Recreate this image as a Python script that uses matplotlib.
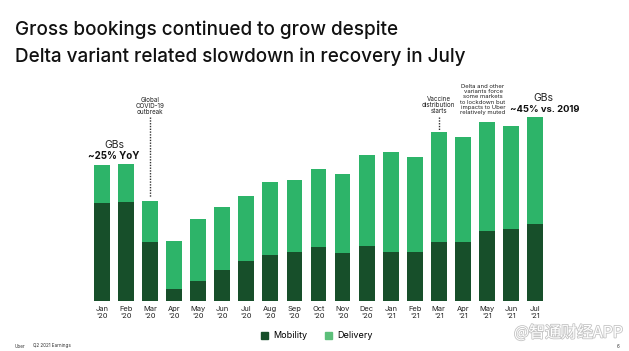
import matplotlib
matplotlib.use('Agg')
import matplotlib.pyplot as plt
import matplotlib.patheffects as pe
from matplotlib.patches import Patch
import numpy as np

# monthly gross bookings ($B)
months = ["Jan\n'20", "Feb\n'20", "Mar\n'20", "Apr\n'20", "May\n'20", "Jun\n'20",
          "Jul\n'20", "Aug\n'20", "Sep\n'20", "Oct\n'20", "Nov\n'20", "Dec\n'20",
          "Jan\n'21", "Feb\n'21", "Mar\n'21", "Apr\n'21", "May\n'21", "Jun\n'21", "Jul\n'21"]
mobility = [4.12, 4.16, 2.48, 0.50, 0.84, 1.30, 1.68, 1.93, 2.06, 2.27,
            2.02, 2.31, 2.06, 2.06, 2.48, 2.48, 2.94, 3.02, 3.23]
delivery = [1.59, 1.59, 1.72, 2.02, 2.60, 2.65, 2.73, 3.07, 3.02, 3.27,
            3.31, 3.82, 4.20, 3.99, 4.62, 4.41, 4.58, 4.33, 4.50]

DARK = '#174f2a'
LIGHT = '#2db469'

plt.rcParams['font.family'] = ['Inter', 'DejaVu Sans']

W, H = 629, 351
fig = plt.figure(figsize=(W / 100, H / 100), dpi=100)

# axes: bottom of bars at y=301px, top at y=60px
ax = fig.add_axes([90 / W, (H - 301) / H, (547 - 90) / W, (301 - 60) / H])
px = 0.042  # $B per pixel
x = np.arange(len(months))
ax.bar(x, mobility, width=0.66, color=DARK, label='Mobility')
ax.bar(x, delivery, width=0.66, bottom=mobility, color=LIGHT, label='Delivery')
ax.set_xlim(-0.5, len(months) - 0.5)
ax.set_ylim(0, 241 * px)
for s in ax.spines.values():
    s.set_visible(False)
ax.set_yticks([])
ax.set_xticks(x)
ax.set_xticklabels(months, fontsize=5.4, linespacing=1.15, color='#222222')
ax.tick_params(axis='x', length=0, pad=3.5)


def ypx(p):
    return (301 - p) * px


# annotations
ax.text(0.5, ypx(145), 'GBs', ha='center', va='center', fontsize=7.5, color='#222222')
ax.text(0.5, ypx(156), '~25% YoY', ha='center', va='center', fontsize=7, fontweight='bold', color='#111111')

ax.text(2, ypx(106), 'Global\nCOVID-19\noutbreak', ha='center', va='center',
        fontsize=4.5, linespacing=1.05, color='#222222')
ax.plot([2, 2], [ypx(117), ypx(197)], color='#333333', lw=1, ls=(0, (1, 1)))

ax.text(14, ypx(105), 'Vaccine\ndistribution\nstarts', ha='center', va='center',
        fontsize=4.5, linespacing=1.05, color='#222222')
ax.plot([14, 14], [ypx(117), ypx(130)], color='#333333', lw=1, ls=(0, (1, 1)))

ax.text(15.84, ypx(99.5), 'Delta and other\nvariants force\nsome markets\nto lockdown but\nimpacts to Uber\nrelatively muted',
        ha='center', va='center', fontsize=4.3, linespacing=1.05, color='#222222')

ax.text(18.33, ypx(98), 'GBs', ha='center', va='center', fontsize=7.5, color='#222222')
ax.text(18.4, ypx(109), '~45% vs. 2019', ha='center', va='center', fontsize=6.8, fontweight='bold', color='#111111')

# title
title_kw = dict(fontsize=13.6, va='baseline', ha='left', color='#111111', fontweight='medium')
fig.text(15 / W, 1 - 35 / H, 'Gross bookings continued to grow despite', **title_kw)
fig.text(15 / W, 1 - 62 / H, 'Delta variant related slowdown in recovery in July', **title_kw)

# legend
handles = [Patch(color=DARK, label='Mobility'), Patch(color='#5cbf7a', label='Delivery')]
fig.legend(handles=handles, loc='center', bbox_to_anchor=(317 / W, 1 - 336 / H), ncol=2,
           frameon=False, fontsize=6.5, handlelength=0.7, handleheight=0.7,
           handletextpad=0.6, columnspacing=2.0)

# footer
fig.text(15 / W, 1 - 346 / H, 'Uber', fontsize=3.3, va='center', color='#333333')
fig.text(33 / W, 1 - 346 / H, 'Q2 2021 Earnings', fontsize=3.3, va='center', color='#333333')
fig.text(617 / W, 1 - 347 / H, '6', fontsize=3.3, va='center', color='#333333')

# watermark
fig.text(623 / W, 1 - 333 / H, '@智通财经APP', fontsize=11.5, ha='right', va='center',
         family=['Noto Sans CJK SC', 'DejaVu Sans'], color='white',
         path_effects=[pe.withStroke(linewidth=1.2, foreground='#c4c4c4')])

fig.savefig('out.png', dpi=100)
